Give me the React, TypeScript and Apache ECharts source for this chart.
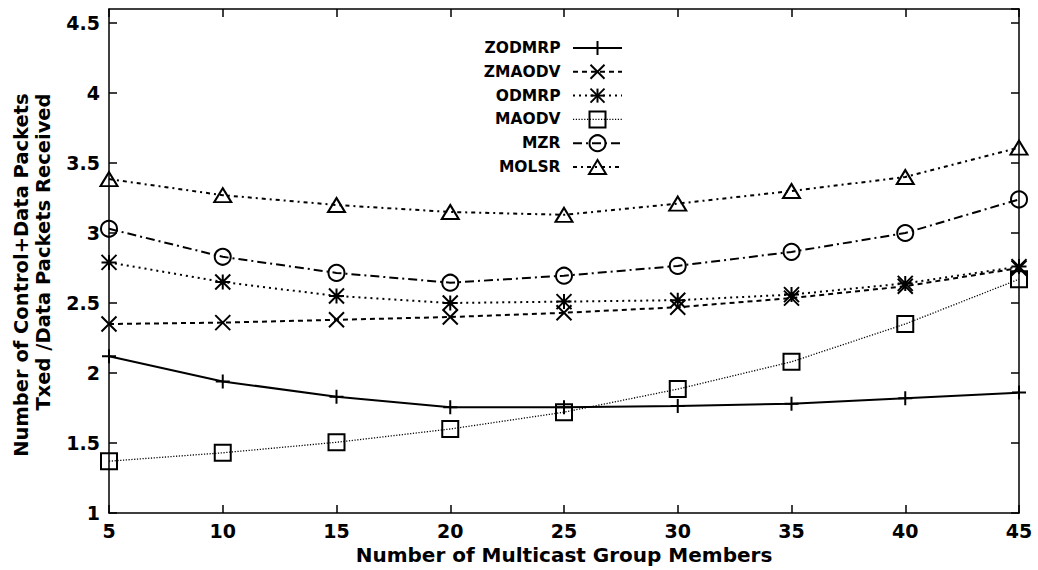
import React, { useEffect, useRef } from "react";
import * as echarts from "echarts";

// Number of multicast group members (x axis)
const members = [5, 10, 15, 20, 25, 30, 35, 40, 45];

// (Control + data packets transmitted) / data packets received, per protocol
const zodmrp = [2.12, 1.94, 1.83, 1.755, 1.755, 1.765, 1.78, 1.82, 1.86];
const zmaodv = [2.35, 2.36, 2.38, 2.4, 2.43, 2.47, 2.535, 2.62, 2.75];
const odmrp = [2.79, 2.65, 2.55, 2.5, 2.51, 2.52, 2.56, 2.64, 2.76];
const maodv = [1.37, 1.43, 1.505, 1.6, 1.72, 1.885, 2.08, 2.35, 2.67];
const mzr = [3.03, 2.83, 2.715, 2.645, 2.695, 2.765, 2.865, 3.0, 3.24];
const molsr = [3.385, 3.27, 3.2, 3.15, 3.13, 3.21, 3.3, 3.4, 3.61];

const seriesNames = ["ZODMRP", "ZMAODV", "ODMRP", "MAODV", "MZR", "MOLSR"];
const seriesValues = [zodmrp, zmaodv, odmrp, maodv, mzr, molsr];

const xTitle = "Number of Multicast Group Members";
const yTitleLines = ["Number of Control+Data Packets", "Txed /Data Packets Received"];

// Visual styles (one entry per series)
type Mark = "plus" | "cross" | "star" | "square" | "circle" | "triangle";
const marks: Mark[] = ["plus", "cross", "star", "square", "circle", "triangle"];
const dashes: (number[] | "solid")[] = [
  "solid",
  [5, 4],
  [2, 4],
  [1.2, 1.6],
  [9, 4, 2, 4],
  [4, 4, 2, 4],
];
const lineWidths = [2, 2, 2, 1.3, 2, 2];

const FONT = "'DejaVu Sans', 'Liberation Sans', Arial, sans-serif";

const symbolFor = (m: Mark): { symbol: string; size: number | number[] } => {
  switch (m) {
    case "plus":
      return { symbol: "path://M0,-1L0,1M-1,0L1,0", size: 14 };
    case "cross":
      return { symbol: "path://M-1,-1L1,1M-1,1L1,-1", size: 15 };
    case "star":
      return { symbol: "path://M0,-1L0,1M-1,0L1,0M-1,-1L1,1M-1,1L1,-1", size: 15 };
    case "square":
      return { symbol: "rect", size: 16 };
    case "circle":
      return { symbol: "circle", size: 16 };
    default:
      return { symbol: "triangle", size: [17, 14] };
  }
};

// Legend sample marker drawn with graphic primitives
const legendMarker = (m: Mark, cx: number, cy: number): any[] => {
  const st = { stroke: "#000", lineWidth: 2, fill: "none" };
  const ln = (x1: number, y1: number, x2: number, y2: number) => ({
    type: "line",
    shape: { x1, y1, x2, y2 },
    style: st,
  });
  switch (m) {
    case "plus":
      return [ln(cx, cy - 7, cx, cy + 7), ln(cx - 7, cy, cx + 7, cy)];
    case "cross":
      return [ln(cx - 7, cy - 7, cx + 7, cy + 7), ln(cx - 7, cy + 7, cx + 7, cy - 7)];
    case "star":
      return [
        ln(cx, cy - 7, cx, cy + 7),
        ln(cx - 7, cy, cx + 7, cy),
        ln(cx - 7, cy - 7, cx + 7, cy + 7),
        ln(cx - 7, cy + 7, cx + 7, cy - 7),
      ];
    case "square":
      return [{ type: "rect", shape: { x: cx - 8, y: cy - 8, width: 16, height: 16 }, style: st }];
    case "circle":
      return [{ type: "circle", shape: { cx, cy, r: 8 }, style: st }];
    default:
      return [
        {
          type: "polygon",
          shape: { points: [[cx, cy - 7], [cx - 8.5, cy + 7], [cx + 8.5, cy + 7]] },
          style: st,
        },
      ];
  }
};

export default function App() {
  const ref = useRef<HTMLDivElement>(null);

  useEffect(() => {
    if (!ref.current) return;
    const chart = echarts.init(ref.current, undefined, { renderer: "svg" });

    const axisText = {
      color: "#000",
      fontFamily: FONT,
      fontWeight: "bold" as const,
      fontSize: 19,
    };
    const axisLine = { show: true, lineStyle: { color: "#000", width: 1.5 } };
    const axisTick = { show: true, inside: true, length: 8, lineStyle: { color: "#000", width: 1.5 } };

    const series = seriesNames.map((name, i) => {
      const s = symbolFor(marks[i]);
      return {
        name,
        type: "line",
        xAxisIndex: 0,
        yAxisIndex: 0,
        data: members.map((m, j) => [m, seriesValues[i][j]]),
        symbol: s.symbol,
        symbolSize: s.size,
        showSymbol: true,
        clip: false,
        color: "#000",
        lineStyle: { color: "#000", width: lineWidths[i], type: dashes[i] },
        itemStyle: { color: "transparent", borderColor: "#000", borderWidth: 2 },
        emphasis: { disabled: true },
        z: 3,
      };
    });

    // Legend: right-aligned names, line sample, centred marker
    const legendChildren: any[] = [];
    seriesNames.forEach((name, i) => {
      const y = 48 + i * 23.8;
      legendChildren.push({
        type: "text",
        x: 560.5,
        y,
        style: {
          text: name,
          fill: "#000",
          fontFamily: FONT,
          fontWeight: "bold",
          fontSize: 15.5,
          align: "right",
          textAlign: "right",
          verticalAlign: "middle",
          textVerticalAlign: "middle",
        },
      });
      legendChildren.push({
        type: "line",
        shape: { x1: 573, y1: y, x2: 622, y2: y },
        style: {
          stroke: "#000",
          lineWidth: lineWidths[i],
          lineDash: dashes[i] === "solid" ? null : dashes[i],
        },
      });
      legendChildren.push(...legendMarker(marks[i], 597.5, y));
    });

    const yTitle = yTitleLines.map((t, i) => ({
      type: "text",
      x: i === 0 ? 21.5 : 43,
      y: i === 0 ? 275 : 252,
      rotation: Math.PI / 2,
      style: {
        text: t,
        fill: "#000",
        fontFamily: FONT,
        fontWeight: "bold",
        fontSize: 19.5,
        align: "center",
        textAlign: "center",
        verticalAlign: "middle",
        textVerticalAlign: "middle",
      },
    }));

    chart.setOption({
      animation: false,
      backgroundColor: "#fff",
      grid: { left: 109, right: 19, top: 9, bottom: 54, containLabel: false },
      xAxis: [
        {
          type: "value",
          min: 5,
          max: 45,
          interval: 5,
          position: "bottom",
          axisLine,
          axisTick,
          splitLine: { show: false },
          axisLabel: { ...axisText, margin: 8 },
          name: xTitle,
          nameLocation: "middle",
          nameGap: 32,
          nameTextStyle: { ...axisText, fontSize: 20 },
        },
        {
          type: "value",
          min: 5,
          max: 45,
          interval: 5,
          position: "top",
          axisLine,
          axisTick,
          splitLine: { show: false },
          axisLabel: { show: false },
        },
      ],
      yAxis: [
        {
          type: "value",
          min: 1,
          max: 4.6,
          interval: 0.5,
          position: "left",
          axisLine,
          axisTick,
          splitLine: { show: false },
          axisLabel: { ...axisText, margin: 9, showMaxLabel: false },
        },
        {
          type: "value",
          min: 1,
          max: 4.6,
          interval: 0.5,
          position: "right",
          axisLine,
          axisTick,
          splitLine: { show: false },
          axisLabel: { show: false },
        },
      ],
      series,
      graphic: [...yTitle, { type: "group", children: legendChildren }],
    });

    return () => chart.dispose();
  }, []);

  return (
    <div
      ref={ref}
      style={{ position: "absolute", left: 0, top: 0, width: 1038, height: 570, background: "#fff" }}
    />
  );
}
